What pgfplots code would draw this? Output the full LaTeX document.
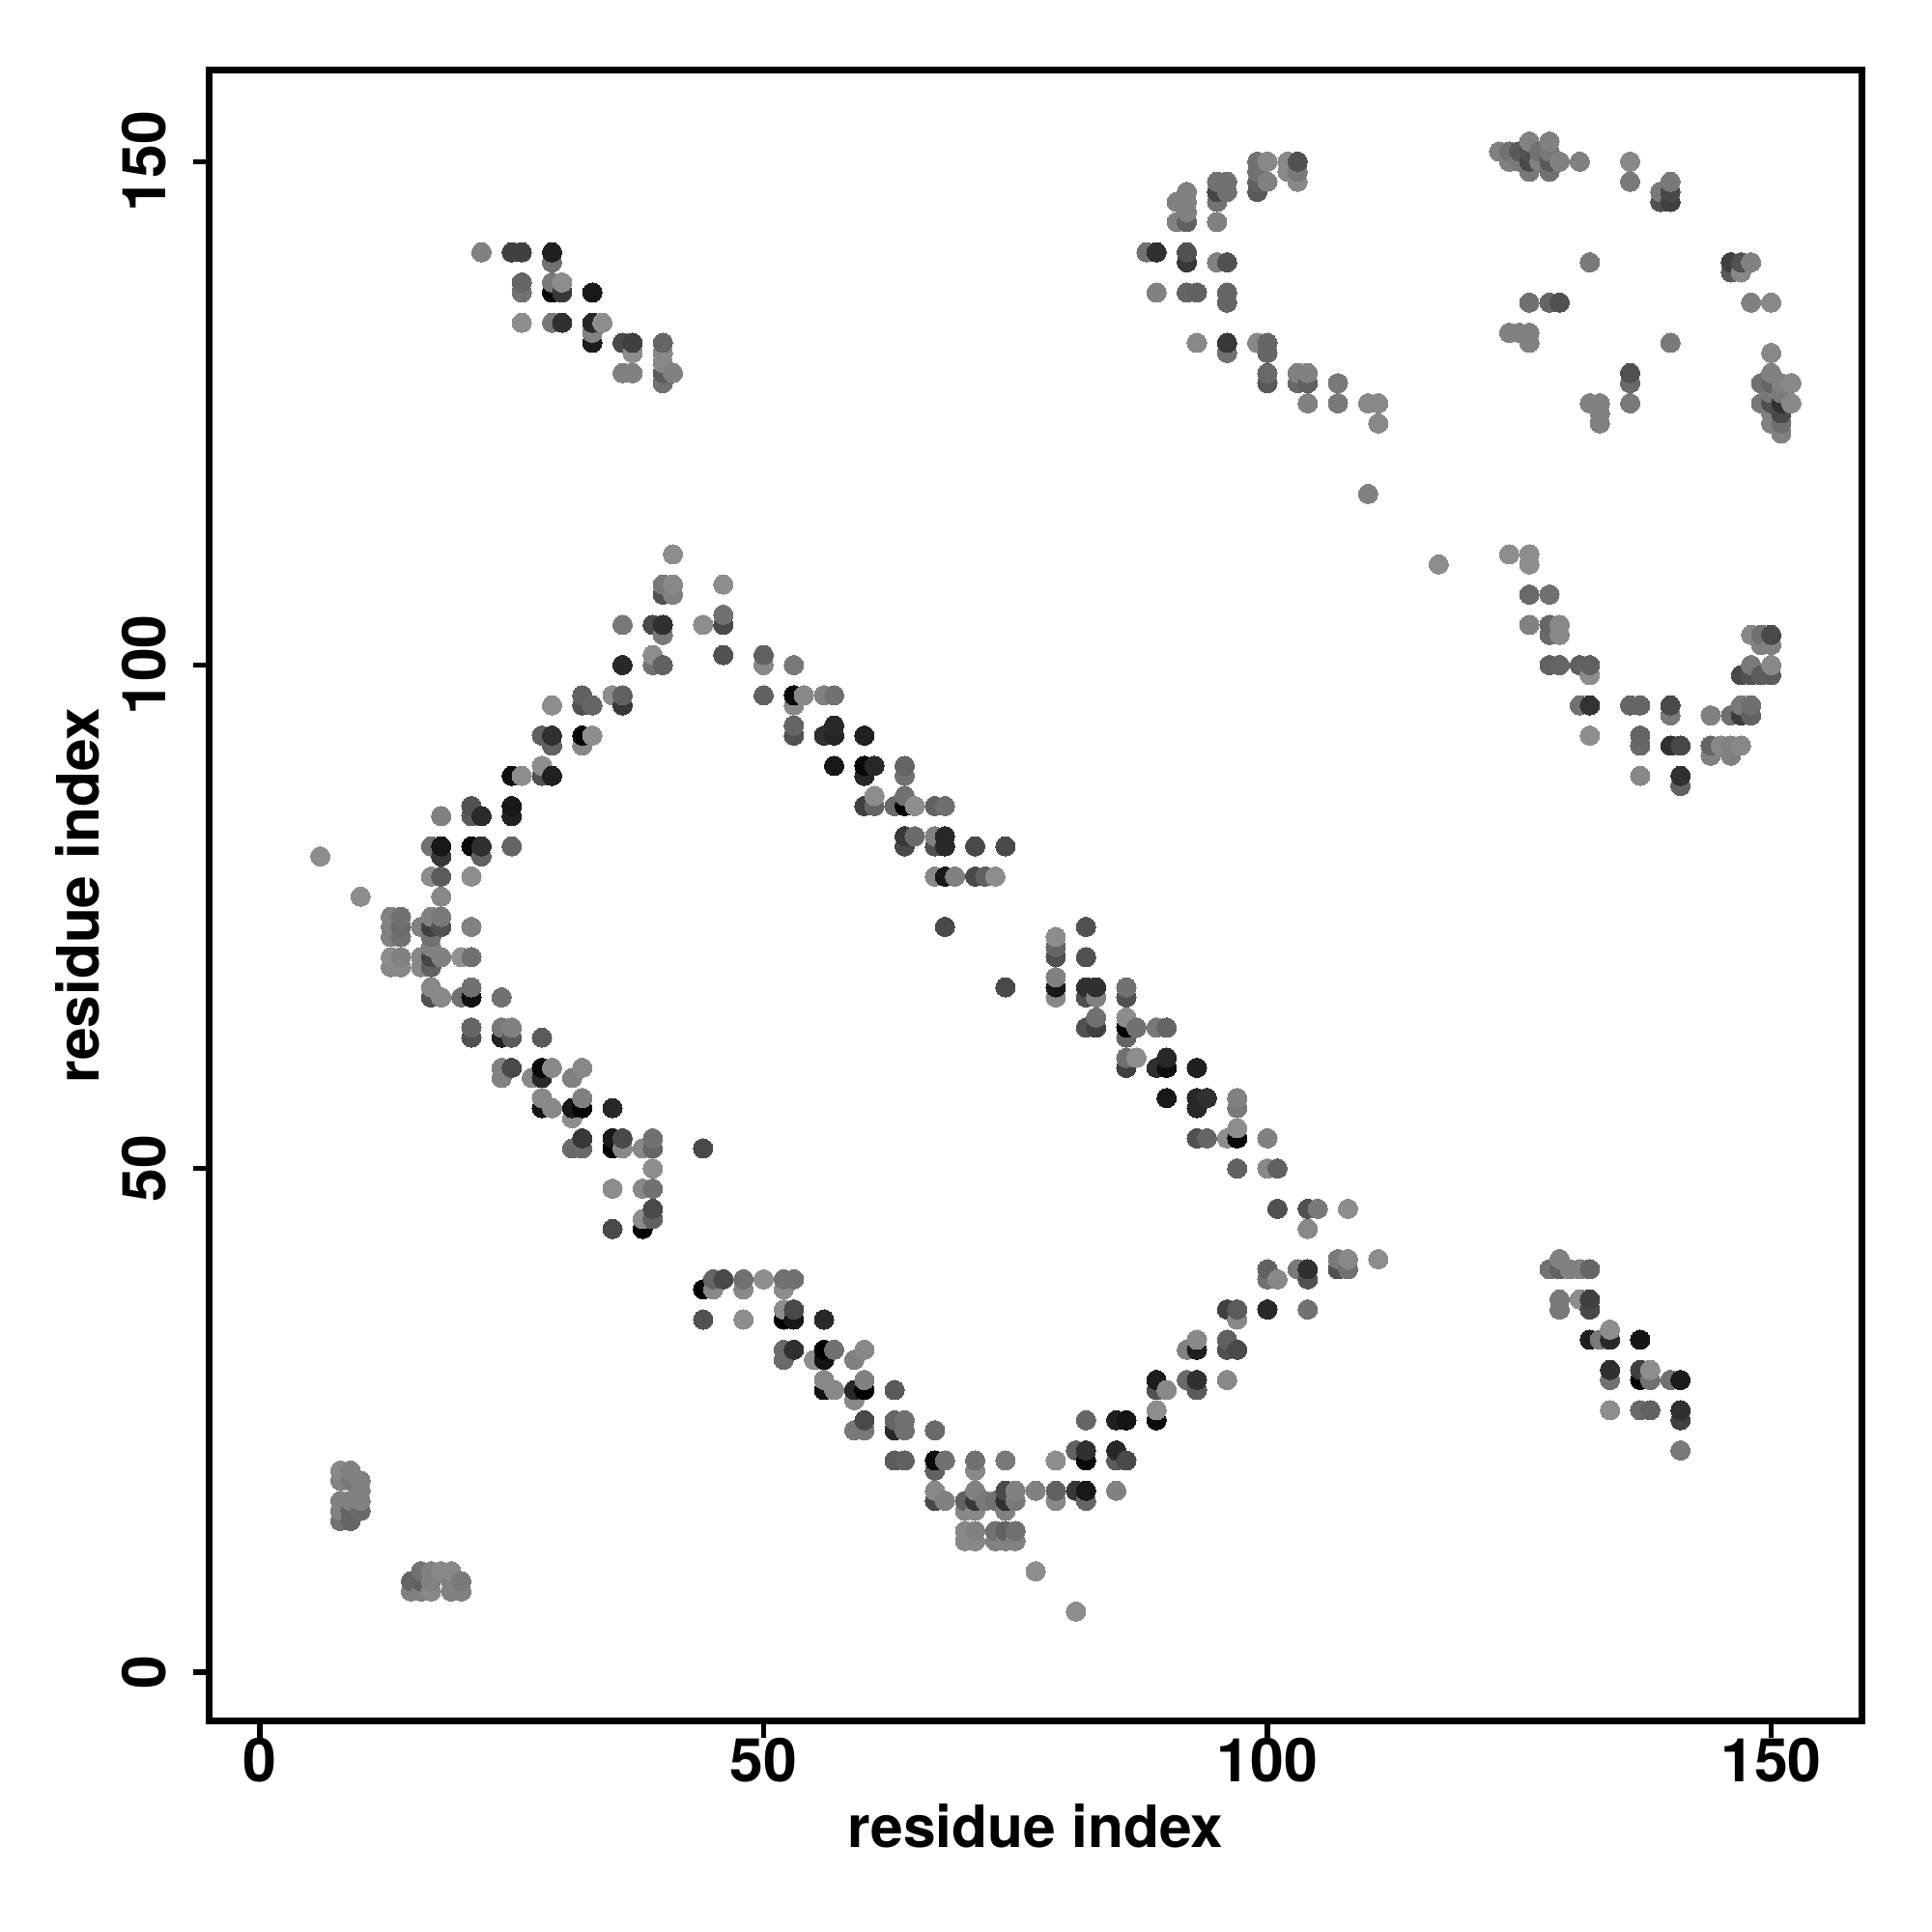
\documentclass[border=0pt]{standalone}
\usepackage{fontspec}
\setmainfont{TeX Gyre Heros}
\usepackage{pgfplots}
\usepackage{pgfplotstable}
\pgfplotsset{compat=1.18}
\pgfplotstableread[row sep=\\]{
x y g\\
8 15 112\\ 8 16 128\\ 8 17 128\\ 8 19 128\\ 8 20 135\\
9 15 100\\ 9 16 100\\ 9 17 128\\ 9 19 120\\ 9 20 128\\
10 16 105\\ 10 17 128\\ 10 18 128\\ 10 19 128\\
15 8 128\\ 15 9 100\\ 16 8 128\\ 16 9 96\\ 16 10 112\\
17 8 135\\ 17 9 128\\ 17 10 128\\ 18 10 135\\
19 8 128\\ 19 9 128\\ 19 10 135\\ 20 8 128\\ 20 9 120\\
6 81 140\\ 10 77 140\\
13 70 135\\ 13 71 140\\ 13 73 128\\ 13 74 128\\ 13 75 128\\
14 70 135\\ 14 71 128\\ 14 73 112\\ 14 74 105\\ 14 75 112\\
16 70 135\\ 16 71 135\\ 16 74 128\\
17 67 80\\ 17 68 135\\ 17 70 96\\ 17 71 70\\ 17 72 128\\ 17 73 112\\ 17 74 64\\ 17 75 128\\ 17 79 140\\ 17 82 112\\
18 67 135\\ 18 71 128\\ 18 74 80\\ 18 75 120\\ 18 77 135\\ 18 79 90\\ 18 81 56\\ 18 82 24\\ 18 85 128\\
20 67 112\\ 20 71 145\\
21 63 80\\ 21 64 100\\ 21 67 16\\ 21 68 112\\ 21 71 112\\ 21 74 128\\ 21 79 140\\ 21 82 8\\ 21 85 90\\ 21 86 80\\
22 81 96\\ 22 82 48\\ 22 85 42\\
24 59 128\\ 24 60 128\\ 24 63 32\\ 24 64 120\\ 24 67 112\\
25 60 72\\ 25 63 90\\ 25 64 128\\ 25 82 100\\ 25 85 32\\ 25 86 24\\ 25 89 16\\
26 89 140\\ 27 59 135\\
28 56 20\\ 28 57 135\\ 28 59 40\\ 28 60 8\\ 28 63 90\\ 28 89 80\\ 28 90 140\\ 28 93 96\\
29 56 135\\ 29 60 135\\ 29 89 32\\ 29 92 96\\ 29 93 48\\ 29 96 140\\
31 52 105\\ 31 55 140\\ 31 56 24\\ 31 59 128\\
32 52 105\\ 32 53 56\\ 32 56 0\\ 32 57 128\\ 32 60 135\\ 32 92 135\\ 32 93 8\\ 32 96 80\\ 32 97 96\\
33 93 140\\ 33 96 100\\
35 44 72\\ 35 48 140\\ 35 52 0\\ 35 53 24\\ 35 56 40\\ 35 97 140\\
36 52 135\\ 36 53 72\\ 36 96 56\\ 36 97 96\\ 36 100 40\\ 36 104 120\\
38 44 0\\ 38 45 140\\ 38 48 135\\ 38 52 135\\
39 45 96\\ 39 46 72\\ 39 48 112\\ 39 50 140\\ 39 52 100\\ 39 53 112\\ 39 100 112\\ 39 101 140\\ 39 104 72\\
40 100 96\\ 40 103 120\\ 40 104 48\\ 40 107 80\\ 40 108 120\\
41 107 128\\ 41 108 135\\ 41 111 140\\
44 52 72\\ 44 104 140\\
46 101 80\\ 46 104 72\\ 46 105 112\\ 46 108 140\\
22 141 128\\ 25 141 64\\
26 134 140\\ 26 137 112\\ 26 138 100\\ 26 141 64\\
29 134 120\\ 29 137 8\\ 29 138 120\\ 29 140 112\\ 29 141 32\\
30 134 48\\ 30 137 56\\ 30 138 140\\
33 132 28\\ 33 133 128\\ 33 134 40\\ 33 137 24\\ 34 134 140\\
36 129 128\\ 36 132 72\\ 37 129 128\\ 37 131 140\\ 37 132 64\\
40 128 112\\ 40 129 90\\ 40 130 135\\ 40 131 135\\ 40 132 100\\ 41 129 128\\
50 97 96\\ 50 100 135\\ 50 101 96\\
53 93 80\\ 53 94 100\\ 53 96 135\\ 53 97 8\\ 53 100 120\\ 54 97 135\\
56 93 48\\ 56 97 128\\
57 90 24\\ 57 93 36\\ 57 94 40\\ 57 97 112\\
60 86 64\\ 60 89 40\\ 60 90 8\\ 60 93 32\\
61 86 100\\ 61 87 140\\ 61 90 40\\ 63 86 105\\
64 82 72\\ 64 83 56\\ 64 86 0\\ 64 87 112\\ 64 89 112\\ 64 90 100\\
65 83 105\\ 65 86 140\\
67 79 135\\ 67 82 80\\ 67 83 128\\ 67 86 96\\
68 74 72\\ 68 79 24\\ 68 82 40\\ 68 83 40\\ 68 86 110\\
69 79 128\\ 71 79 72\\ 71 82 72\\ 72 79 96\\ 73 79 140\\ 74 68 72\\ 74 82 72\\
79 67 135\\ 79 68 24\\ 79 69 128\\ 79 71 80\\ 79 72 100\\ 79 73 140\\
82 64 80\\ 82 67 80\\ 82 68 48\\ 82 71 80\\ 82 74 80\\
83 64 64\\ 83 65 112\\ 83 67 128\\ 83 68 48\\
86 60 64\\ 86 61 112\\ 86 63 100\\ 86 64 0\\ 86 65 140\\ 86 67 80\\ 86 68 112\\
87 61 140\\ 87 64 112\\ 89 60 48\\ 89 64 120\\
90 57 24\\ 90 60 16\\ 90 61 40\\ 90 64 100\\
93 53 80\\ 93 56 40\\ 93 57 40\\ 93 60 32\\ 94 53 100\\ 94 57 48\\ 96 53 140\\
97 50 96\\ 97 53 8\\ 97 54 140\\ 97 56 120\\ 97 57 128\\
100 50 135\\ 100 53 128\\ 101 46 80\\ 101 50 96\\
104 44 135\\ 104 46 80\\ 105 46 120\\ 108 46 140\\
44 35 80\\ 44 38 0\\ 45 38 135\\ 45 39 100\\ 46 39 72\\
48 35 140\\ 48 38 135\\ 48 39 112\\ 50 39 140\\
52 31 105\\ 52 32 105\\ 52 35 0\\ 52 36 140\\ 52 38 140\\ 52 39 112\\
53 32 48\\ 53 35 24\\ 53 36 72\\ 53 39 112\\ 55 31 140\\
56 28 16\\ 56 29 135\\ 56 31 20\\ 56 32 0\\ 56 35 40\\ 57 28 135\\ 57 32 112\\
59 24 120\\ 59 27 135\\ 59 28 40\\ 59 31 128\\
60 24 120\\ 60 25 72\\ 60 28 0\\ 60 29 128\\ 60 32 135\\
63 21 90\\ 63 24 40\\ 63 25 100\\ 63 28 88\\ 64 21 96\\ 64 24 112\\ 64 25 112\\
67 17 72\\ 67 18 135\\ 67 20 96\\ 67 21 10\\ 67 24 105\\ 68 17 128\\ 68 21 112\\
70 13 135\\ 70 14 135\\ 70 16 135\\ 70 17 96\\
71 13 135\\ 71 14 128\\ 71 16 135\\ 71 17 56\\ 71 18 128\\ 71 20 135\\ 71 21 112\\
72 17 120\\ 73 13 128\\ 73 14 112\\ 73 17 112\\
74 13 128\\ 74 14 96\\ 74 16 128\\ 74 17 48\\ 74 18 72\\ 74 21 120\\
75 13 128\\ 75 14 112\\ 75 17 120\\ 75 18 128\\ 77 10 140\\ 77 18 128\\
79 17 135\\ 79 18 96\\ 79 21 140\\ 81 6 140\\ 81 18 56\\ 81 22 96\\
82 17 100\\ 82 18 24\\ 82 21 8\\ 82 22 48\\ 82 25 100\\
85 18 128\\ 85 21 90\\ 85 22 40\\ 85 25 32\\ 86 21 72\\ 86 25 20\\
89 25 12\\ 89 26 140\\ 89 28 80\\ 89 29 28\\ 90 28 135\\
92 29 105\\ 92 32 128\\ 93 28 90\\ 93 29 48\\ 93 32 32\\ 93 33 135\\
96 29 135\\ 96 32 80\\ 96 33 96\\ 96 36 64\\ 97 32 72\\ 97 35 135\\ 97 36 90\\
100 36 40\\ 100 39 112\\ 100 40 96\\ 101 39 135\\ 103 40 120\\
104 36 112\\ 104 39 80\\ 104 40 48\\ 107 40 80\\ 107 41 120\\ 108 40 112\\ 108 41 135\\ 111 41 140\\
88 141 112\\ 89 137 128\\ 89 141 48\\ 91 144 128\\ 91 146 128\\
92 137 100\\ 92 140 56\\ 92 141 80\\ 92 144 96\\ 92 145 128\\ 92 146 128\\ 92 147 128\\
93 132 135\\ 93 137 96\\
95 140 128\\ 95 144 128\\ 95 146 112\\ 95 147 70\\ 95 148 112\\
96 131 112\\ 96 132 56\\ 96 136 100\\ 96 137 100\\ 96 140 80\\ 96 147 112\\ 96 148 112\\
99 132 135\\ 99 147 88\\ 99 148 96\\ 99 149 112\\ 99 150 112\\
100 128 88\\ 100 129 104\\ 100 131 100\\ 100 132 100\\ 100 148 128\\ 100 150 135\\
102 149 135\\ 102 150 135\\
103 128 104\\ 103 129 128\\ 103 148 135\\ 103 149 120\\ 103 150 80\\
104 126 128\\ 104 128 96\\ 104 129 128\\ 107 126 120\\ 107 128 120\\
110 117 128\\ 110 126 135\\ 111 124 135\\ 111 126 135\\
117 110 140\\ 123 151 128\\ 124 111 140\\ 124 133 128\\ 124 150 128\\ 124 151 112\\
125 133 128\\ 125 150 120\\ 125 151 88\\
126 104 128\\ 126 107 104\\ 126 110 140\\ 126 111 140\\ 126 132 128\\ 126 133 128\\ 126 136 112\\ 126 149 120\\ 126 150 72\\ 126 151 80\\ 126 152 128\\
127 150 128\\ 127 151 112\\
128 40 112\\ 128 100 96\\ 128 103 104\\ 128 104 100\\ 128 107 112\\ 128 136 100\\ 128 149 112\\ 128 150 88\\ 128 151 120\\ 128 152 128\\
129 36 120\\ 129 37 120\\ 129 40 96\\ 129 41 128\\ 129 100 100\\ 129 103 135\\ 129 104 135\\ 129 136 80\\ 129 150 128\\
130 40 128\\ 131 37 140\\ 131 40 128\\ 131 96 112\\ 131 100 96\\ 131 150 128\\
132 33 32\\ 132 36 72\\ 132 37 64\\ 132 40 100\\ 132 93 140\\ 132 96 50\\ 132 99 140\\ 132 100 96\\ 132 126 128\\ 132 140 120\\
133 33 120\\ 133 124 128\\ 133 125 128\\ 133 126 128\\
134 26 140\\ 134 29 112\\ 134 30 48\\ 134 33 40\\ 134 34 140\\
136 96 100\\ 136 126 120\\ 136 128 104\\ 136 129 80\\ 136 148 120\\ 136 150 135\\
137 26 104\\ 137 29 0\\ 137 30 64\\ 137 33 20\\ 137 89 135\\ 137 92 104\\ 137 93 100\\ 137 96 100\\
138 26 96\\ 138 29 112\\ 138 30 140\\
139 146 80\\ 139 147 120\\
140 29 112\\ 140 92 48\\ 140 95 120\\ 140 96 72\\ 140 132 120\\ 140 146 64\\ 140 147 72\\ 140 148 120\\
141 22 120\\ 141 25 64\\ 141 26 48\\ 141 29 28\\ 141 88 96\\ 141 89 48\\ 141 92 70\\
144 91 128\\ 144 92 100\\ 144 95 128\\ 145 92 135\\
146 91 128\\ 146 92 128\\ 146 95 110\\ 146 139 88\\ 146 140 64\\
147 92 135\\ 147 95 60\\ 147 96 120\\ 147 99 72\\ 147 139 135\\ 147 140 80\\
148 95 96\\ 148 96 110\\ 148 99 80\\ 148 100 120\\ 148 103 135\\ 148 136 128\\ 148 140 128\\
149 99 90\\ 149 102 128\\ 149 103 112\\ 149 126 120\\ 149 128 112\\
150 99 90\\ 150 100 135\\ 150 102 128\\ 150 103 72\\ 150 124 128\\ 150 125 128\\ 150 126 80\\ 150 127 120\\ 150 128 100\\ 150 129 128\\ 150 131 135\\ 150 136 135\\
151 123 128\\ 151 124 110\\ 151 125 72\\ 151 126 50\\ 151 127 120\\ 151 128 128\\
152 126 135\\ 152 128 135\\
}\pts
\begin{document}
\begin{tikzpicture}
\useasboundingbox (0,0) rectangle (20cm,20cm);
\begin{axis}[
  at={(2.168cm,2.181cm)}, anchor=south west,
  scale only axis, width=17.106cm, height=17.092cm,
  xmin=-5.0, xmax=159.0, ymin=-4.9, ymax=159.08,
  xtick={0,50,100,150}, ytick={0,50,100,150},
  axis line style={line width=2pt},
  tick style={line width=1.6pt, black},
  tick align=outside, major tick length=0.17cm,
  xtick pos=bottom, ytick pos=left,
  /pgf/number format/assume math mode=true,
  tick label style={font=\fontsize{17.8}{20}\selectfont\bfseries},
  y tick label style={rotate=90, anchor=south, inner sep=0pt},
  x tick label style={anchor=north, inner sep=0pt},
  xticklabel shift=0cm, yticklabel shift=0.27cm,
  xlabel={residue index}, ylabel={residue index},
  label style={font=\fontsize{17.2}{20}\selectfont\bfseries},
  xlabel style={at={(axis description cs:0.5,0)}, anchor=center, yshift=-1.08cm, inner sep=0pt},
  ylabel style={at={(axis description cs:0,0.5)}, anchor=center, yshift=1.37cm, inner sep=0pt},
  colormap={bw}{gray(0cm)=(0); gray(1cm)=(1)},
  point meta min=0, point meta max=255,
]
\addplot[scatter, only marks, mark=*, mark size=2.85pt, scatter src=explicit,
  mark options={line width=0pt},
  scatter/use mapped color={draw=mapped color, fill=mapped color}]
  table[x=x, y=y, meta=g] {\pts};
\end{axis}
\end{tikzpicture}
\end{document}
